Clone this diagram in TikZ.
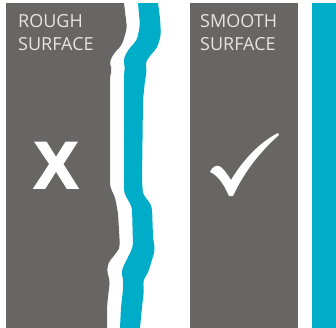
\documentclass[tikz,border=0pt]{standalone}
\usepackage{fontspec}
\setmainfont{Open Sans}
\newfontfamily\crossfont{Liberation Sans}[FakeBold=3]
\definecolor{panelgray}{HTML}{686565}
\definecolor{teal}{HTML}{00ADC8}
\definecolor{labelgray}{HTML}{E4E4E4}
\begin{document}
\begin{tikzpicture}[x=1bp,y=-1bp,
  label/.style={anchor=base west,inner sep=0pt,text=labelgray,font=\fontsize{18bp}{18bp}\selectfont}]
\useasboundingbox (0,0) rectangle (336,328);
% left rough panel
\fill[panelgray] (6,3) -- (124,3) [rounded corners=4bp] -- (127,28) -- (122,45) -- (115,52) -- (110,60) -- (110,65) -- (112,70) -- (110,75) -- (110,187) -- (115,197) -- (118,213) -- (120,247) -- (117,252) -- (108,263) -- (107,273) -- (110,280) -- (108,297) -- (107,307) [sharp corners] -- (107,328) -- (6,328) -- cycle;
% rough teal strip
\fill[teal] (138,3) [rounded corners=4bp] -- (140,25) -- (137,40) -- (128,50) -- (123,60) -- (125,65) -- (124,75) -- (124,193) -- (128,200) -- (132,207) -- (133,247) -- (125,263) -- (121,272) -- (123,277) -- (123,290) -- (121,307) [sharp corners] -- (120,328) -- (140,328) [rounded corners=4bp] -- (142,307) -- (144,290) -- (143,280) -- (148,273) -- (155,250) -- (153,237) -- (152,207) -- (148,200) -- (143,195) -- (142,180) -- (143,100) -- (145,80) -- (147,70) -- (145,65) -- (148,58) -- (157,48) -- (161,35) -- (160,18) [sharp corners] -- (158,3) -- cycle;
% smooth panel and teal strip
\fill[panelgray] (190,3) rectangle (298,328);
\fill[teal] (312,3) rectangle (336,328);
% labels
\node[label] (r1) at (18,27) {ROUGH};
\node[label] (r2) at (18,50) {SURFACE};
\node[label] (s1) at (200,27) {SMOOTH};
\node[label] (s2) at (200,50) {SURFACE};
% cross
\node[anchor=base,inner sep=0pt,text=white,font=\crossfont\bfseries\fontsize{66bp}{66bp}\selectfont] (cross) at (56,188) {X};
% check mark
\fill[white] (210,172) .. controls (212,167) and (216,165) .. (219,166) .. controls (222,167) and (226,172) .. (231,180) .. controls (243,160) and (260,142) .. (278,133) -- (279,135) .. controls (262,150) and (245,170) .. (233,196) -- (229,196) .. controls (224,185) and (219,176) .. (210,172) -- cycle;
\end{tikzpicture}
\end{document}
